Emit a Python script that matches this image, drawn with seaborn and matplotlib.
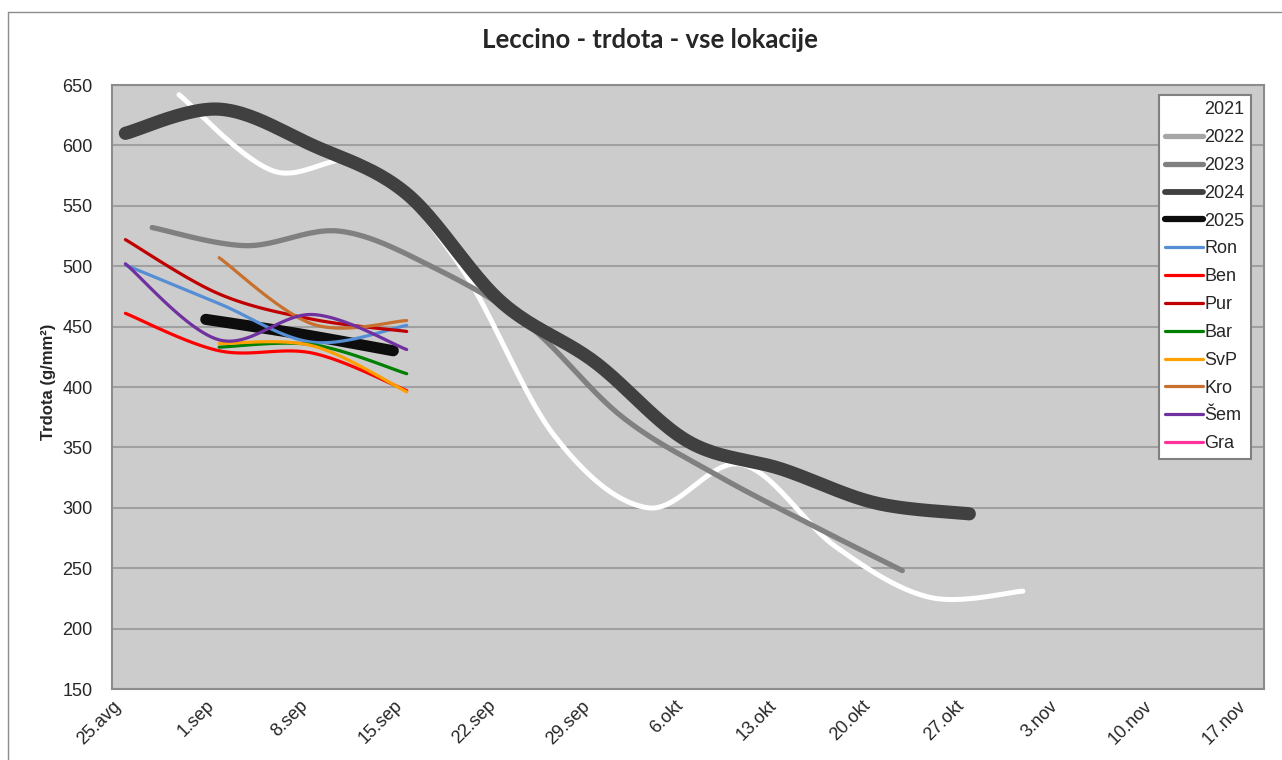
import numpy as np
import pandas as pd
import seaborn as sns
import matplotlib
matplotlib.use('Agg')
import matplotlib.pyplot as plt
from matplotlib.lines import Line2D

# x = days after 25.avg
week_labels = ['25.avg', '1.sep', '8.sep', '15.sep', '22.sep', '29.sep', '6.okt',
               '13.okt', '20.okt', '27.okt', '3.nov', '10.nov', '17.nov']

days_2021 = [5, 12, 19, 26, 33, 40, 47, 54, 61, 68]
vals_2021 = [642, 579, 585, 500, 360, 300, 336, 268, 226, 231]

days_2023 = [3, 10, 17, 24, 31, 38, 45, 52, 59]
vals_2023 = [532, 517, 529, 499, 452, 376, 328, 287, 248]

days_2024 = [1, 8, 15, 22, 29, 36, 43, 50, 57, 64]
vals_2024 = [610, 630, 600, 560, 471, 421, 355, 332, 304, 295]

days_2025 = [7, 14, 21]
vals_2025 = [456, 444, 430]

days_loc4 = [1, 8, 15, 22]
days_loc3 = [8, 15, 22]
ron = [501, 469, 437, 451]
ben = [461, 430, 428, 397]
pur = [522, 477, 456, 446]
bar = [433, 435, 411]
svp = [436, 434, 396]
kro = [507, 452, 455]
sem = [502, 439, 460, 431]

series = [
    ('2021', days_2021, vals_2021, '#FFFFFF', 3.6),
    ('2023', days_2023, vals_2023, '#808080', 3.8),
    ('2024', days_2024, vals_2024, '#404040', 9.5),
    ('2025', days_2025, vals_2025, '#0D0D0D', 8.0),
    ('Ron', days_loc4, ron, '#558ED5', 2.3),
    ('Ben', days_loc4, ben, '#FF0000', 2.3),
    ('Pur', days_loc4, pur, '#C00000', 2.3),
    ('Bar', days_loc3, bar, '#008000', 2.3),
    ('SvP', days_loc3, svp, '#FF9F00', 2.3),
    ('Kro', days_loc3, kro, '#C8702E', 2.3),
    ('Šem', days_loc4, sem, '#7030A0', 2.3),
]

# legend entries (2022 and Gra have no visible data)
legend_items = [('2021', '#FFFFFF', 4), ('2022', '#A6A6A6', 3.8), ('2023', '#808080', 3.8),
                ('2024', '#404040', 4.2), ('2025', '#0D0D0D', 4.5), ('Ron', '#558ED5', 2.3),
                ('Ben', '#FF0000', 2.3), ('Pur', '#C00000', 2.3), ('Bar', '#008000', 2.3),
                ('SvP', '#FF9F00', 2.3), ('Kro', '#C8702E', 2.3), ('Šem', '#7030A0', 2.3),
                ('Gra', '#FF3399', 2.3)]


def smooth(x, y, n=25):
    # Catmull-Rom curve through the points, like Excel's smoothed line
    p = np.column_stack([x, y]).astype(float)
    p = np.vstack([p[0], p, p[-1]])
    t = np.linspace(0, 1, n, endpoint=False)[:, None]
    out = []
    for i in range(1, len(p) - 2):
        p0, p1, p2, p3 = p[i - 1], p[i], p[i + 1], p[i + 2]
        m1 = (p2 - p0) / 2
        m2 = (p3 - p1) / 2
        h00 = 2 * t**3 - 3 * t**2 + 1
        h10 = t**3 - 2 * t**2 + t
        h01 = -2 * t**3 + 3 * t**2
        h11 = t**3 - t**2
        out.append(h00 * p1 + h10 * m1 + h01 * p2 + h11 * m2)
    out.append(p[-2][None, :])
    return np.vstack(out)


frames = []
for name, d, v, c, w in series:
    pts = smooth(d, v)
    frames.append(pd.DataFrame({'day': pts[:, 0], 'value': pts[:, 1], 'series': name}))
df = pd.concat(frames, ignore_index=True)

sns.set_style('white')
plt.rcParams['font.family'] = ['Liberation Sans', 'DejaVu Sans']

fig = plt.figure(figsize=(12.82, 7.6), dpi=100)
ax = fig.add_axes([112 / 1282, 1 - 689 / 760, (1264 - 112) / 1282, (689 - 85) / 760])
ax.set_facecolor('#CCCCCC')

order = [s[0] for s in series]
sns.lineplot(data=df, x='day', y='value', hue='series', size='series',
             hue_order=order, size_order=order,
             palette={s[0]: s[3] for s in series},
             sizes={s[0]: s[4] for s in series},
             sort=False, estimator=None, legend=False, ax=ax,
             solid_capstyle='round', solid_joinstyle='round')

ax.set_xlim(0, 86)
ax.set_ylim(150, 650)
ax.set_xticks(np.arange(0, 85, 7))
ax.set_xticklabels(week_labels)
ax.set_yticks(np.arange(150, 651, 50))
ax.set_xlabel('')
ax.set_ylabel('')
ax.yaxis.grid(True, color='#A0A0A0', lw=1.5)
ax.set_axisbelow(True)
for sp in ax.spines.values():
    sp.set_color('#8C8C8C')
    sp.set_linewidth(1.5)

ax.tick_params(axis='x', direction='in', length=4, width=1, color='#8C8C8C',
               labelsize=13, pad=6)
ax.tick_params(axis='y', length=0, labelsize=13, pad=14)
for lbl in ax.get_xticklabels():
    lbl.set_rotation(45)
    lbl.set_ha('right')
    lbl.set_rotation_mode('anchor')

handles = [Line2D([], [], color=c, lw=w, solid_capstyle='round') for _, c, w in legend_items]
leg = ax.legend(handles, [l[0] for l in legend_items], loc='upper right',
                bbox_to_anchor=((1251 - 112) / 1152, (689 - 95) / 604),
                fontsize=13, frameon=True, fancybox=False, framealpha=1,
                edgecolor='#808080', handlelength=2.1, handletextpad=0.1,
                labelspacing=0.6, borderpad=0.35, borderaxespad=0)
leg.get_frame().set_linewidth(1.5)

fig.text(650 / 1282, 1 - 40 / 760, 'Leccino - trdota - vse lokacije', ha='center',
         va='center', fontsize=18.5, fontweight='bold', family=['Lato', 'DejaVu Sans'])
fig.text(48 / 1282, 1 - 382 / 760, 'Trdota (g/mm²)', rotation=90, ha='center',
         va='center', fontsize=12, fontweight='bold')

# outer chart border
fig.add_artist(Line2D([7.5 / 1282, 1], [1 - 12 / 760, 1 - 12 / 760],
                      transform=fig.transFigure, color='#8C8C8C', lw=1))
fig.add_artist(Line2D([7.5 / 1282, 7.5 / 1282], [0, 1 - 12 / 760],
                      transform=fig.transFigure, color='#8C8C8C', lw=1))

fig.savefig('out.png', dpi=100)
